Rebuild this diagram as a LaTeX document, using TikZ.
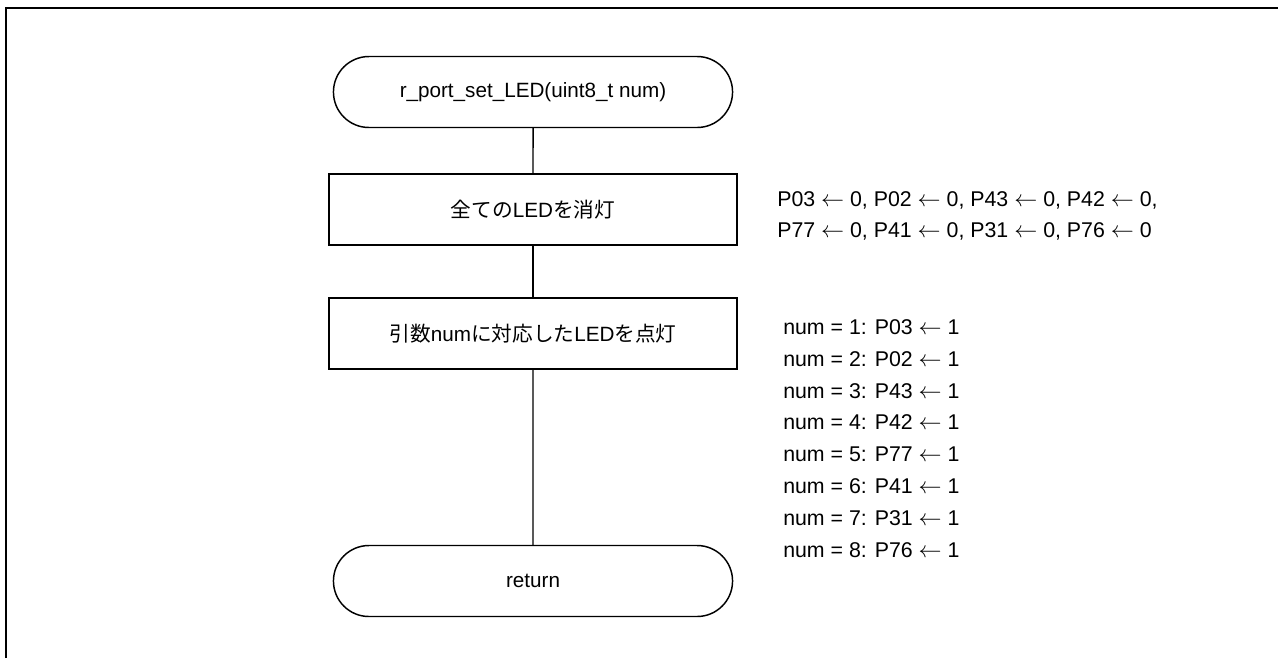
\documentclass[tikz,border=0pt]{standalone}
\usepackage{fontspec}
\setmainfont{Liberation Sans}
\newfontfamily\jp{Noto Sans CJK JP}
\usetikzlibrary{shapes.misc}

\begin{document}
\begin{tikzpicture}[x=0.75pt,y=-0.75pt]
	\tikzstyle{terminal}=[rounded rectangle,draw,line width=1.1pt,minimum width=306pt,minimum height=53.25pt,font=\fontsize{15.5}{18}\selectfont]
	\tikzstyle{process}=[rectangle,draw,line width=1.1pt,minimum width=306pt,minimum height=53.25pt,font=\fontsize{15.5}{18}\selectfont]
	\tikzstyle{note}=[anchor=west,align=left,inner sep=0pt,font=\fontsize{16}{23.25}\selectfont]
	\tikzstyle{flow}=[-,black,line width=1.1pt]

	\useasboundingbox (0,0) rectangle (1278,658);
	\draw[line width=0.8pt] (6,658) -- (6,8) -- (1278,8);

	\node[terminal] (start) at (533,92) {r\_port\_set\_LED(uint8\_t num)};
	\node[process] (alloff) at (533,209.5) {{\jp 全ての}LED{\jp を消灯}};
	\node[process] (seton) at (533,333.5) {{\jp 引数}num{\jp に対応した}LED{\jp を点灯}};
	\node[terminal] (ret) at (533,581) {return};

	\draw[flow] (start) -- (alloff);
	\draw[flow] (alloff) -- (seton);
	\draw[flow] (seton) -- (ret);

	% port settings
	\node[note] (offnote) at (777,215.5) {P03 $\leftarrow$ 0, P02 $\leftarrow$ 0, P43 $\leftarrow$ 0, P42 $\leftarrow$ 0,\\
		P77 $\leftarrow$ 0, P41 $\leftarrow$ 0, P31 $\leftarrow$ 0, P76 $\leftarrow$ 0};
	\node[note,font=\fontsize{16}{23.9}\selectfont] (onnote) at (783,438.5) {num = 1: P03 $\leftarrow$ 1\\
		num = 2: P02 $\leftarrow$ 1\\
		num = 3: P43 $\leftarrow$ 1\\
		num = 4: P42 $\leftarrow$ 1\\
		num = 5: P77 $\leftarrow$ 1\\
		num = 6: P41 $\leftarrow$ 1\\
		num = 7: P31 $\leftarrow$ 1\\
		num = 8: P76 $\leftarrow$ 1};
\end{tikzpicture}
\end{document}
